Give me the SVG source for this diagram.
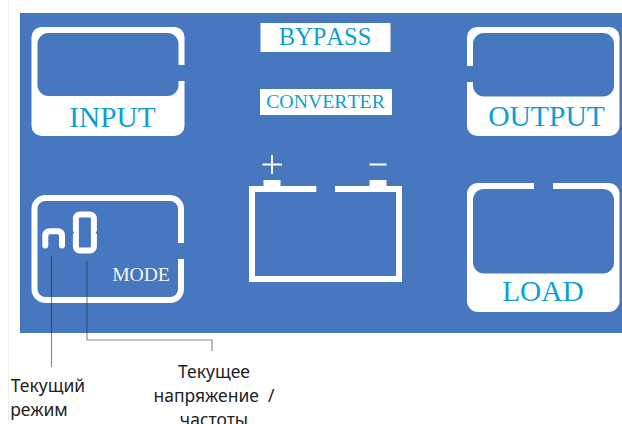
<svg xmlns="http://www.w3.org/2000/svg" width="622" height="424" viewBox="0 0 622 424">
<style>
.w{fill:#fff}
.b{fill:#4777be}
.s{font-family:"Liberation Serif","Times New Roman",serif;fill:#0d9fcf;text-anchor:middle;font-kerning:none}
.l{font-family:"Noto Sans","Open Sans",sans-serif;font-size:17.5px;fill:#222;text-anchor:middle}
.o{fill:none;stroke:#fff;stroke-width:6}
.c{fill:none;stroke:#2a2f38;stroke-opacity:.55;stroke-width:1.2}
</style>
<rect width="622" height="424" fill="#fff"/>
<path d="M8.500 0V424" stroke="#ececec" stroke-width="1" fill="none"/>
<rect id="panel" class="b" x="20" y="13" width="602" height="320"/>
<g id="input">
<rect class="w" x="31.500" y="27" width="153" height="109" rx="10"/>
<rect class="b" x="37.500" y="33" width="141" height="63" rx="11"/>
<rect class="b" x="177" y="65" width="8" height="16"/>
<text class="s" x="112.500" y="127" font-size="29.300">INPUT</text>
</g>
<g id="output">
<rect class="w" x="467" y="27" width="152.500" height="109" rx="10"/>
<rect class="b" x="473" y="33" width="141" height="63.500" rx="11"/>
<rect class="b" x="466" y="66" width="8" height="16"/>
<text class="s" x="546.500" y="126" font-size="29.600">OUTPUT</text>
</g>
<g id="load">
<rect class="w" x="467" y="183" width="152.500" height="129" rx="11"/>
<rect class="b" x="473" y="189" width="141" height="84.500" rx="11"/>
<rect class="b" x="534" y="182" width="19" height="8"/>
<text class="s" x="543" y="301" font-size="29.400">LOAD</text>
</g>
<g id="mode">
<rect class="o" x="34.500" y="198" width="146.500" height="102" rx="11"/>
<rect class="b" x="177" y="243" width="8" height="16"/>
<text class="s" x="141" y="281" font-size="19.600" style="fill:#f2f6fb">MODE</text>
<path d="M45.300 245.500V236Q45.300 231.300 50 231.300H57.500Q62 231.300 62 236V245.500" fill="none" stroke="#fff" stroke-width="6" stroke-linecap="round"/>
<rect x="75.900" y="214.500" width="18" height="36" rx="4" fill="none" stroke="#fff" stroke-width="6"/>
<path d="M72.500 232.500H74M95.800 232.500H97.300" stroke="#4777be" stroke-width="2" fill="none"/>
</g>
<g id="bypass">
<rect class="w" x="260.500" y="23" width="130" height="29"/>
<text class="s" x="325" y="44.500" font-size="24.500">BYPASS</text>
</g>
<g id="converter">
<rect class="w" x="260" y="89" width="132" height="26"/>
<text class="s" x="325.500" y="108" font-size="19.800">CONVERTER</text>
</g>
<g id="battery">
<path class="o" d="M316.300 189H252V279H399V189H335"/>
<rect class="w" x="263.500" y="180" width="17" height="7"/>
<rect class="w" x="369.500" y="180" width="17" height="7"/>
<path d="M262.500 164.500H282M272 155V174M369.500 164.500H386.500" fill="none" stroke="#fff" stroke-width="1.800"/>
</g>
<g id="connectors">
<path class="c" d="M51.500 256V367"/>
<path class="c" d="M87 261V340H212V351"/>
</g>
<g id="label-mode">
<text class="l" x="48" y="392">Текущий</text>
<text class="l" x="39" y="416">режим</text>
</g>
<g id="label-value">
<text class="l" x="214" y="378">Текущее</text>
<text class="l" x="214" y="402" xml:space="preserve">напряжение  /</text>
<text class="l" x="214" y="426">частоты</text>
</g>
</svg>
